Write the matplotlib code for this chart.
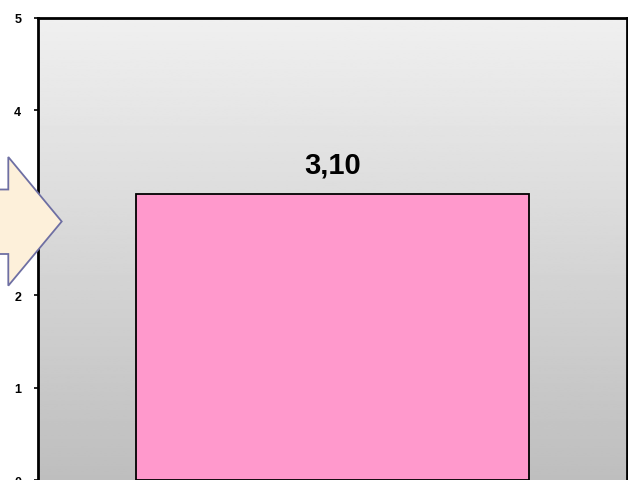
import matplotlib
matplotlib.use('Agg')
import matplotlib.pyplot as plt
import numpy as np
from matplotlib.patches import Polygon

# Data
categories = ['']
values = [3.10]
value_labels = ['3,10']
yticks = [0, 1, 2, 3, 4, 5]

plt.rcParams['font.family'] = ['Liberation Sans', 'DejaVu Sans']

fig = plt.figure(figsize=(6.28, 4.81), dpi=100)
ax = fig.add_axes([38 / 628, -0.001, 589 / 628, 462.5 / 481])

# Background gradient (light at top, grey at bottom)
grad = np.linspace(0.745, 0.94, 256).reshape(-1, 1)
ax.imshow(grad, cmap='gray', vmin=0, vmax=1, aspect='auto',
          extent=(-0.75, 0.75, 0, 5), origin='lower', zorder=0)

x = np.arange(len(categories))
ax.bar(x, values, width=1.0, color='#FF99CC', edgecolor='black',
       linewidth=1.3, zorder=2)
for xi, v, lab in zip(x, values, value_labels):
    ax.text(xi, v + 0.17, lab, ha='center', va='bottom',
            fontsize=21, fontweight='bold', zorder=3)

ax.set_xlim(-0.75, 0.75)
ax.set_ylim(0, 5)
ax.set_xticks([])
ax.set_yticks(yticks)
ax.set_yticklabels([str(t) for t in yticks], fontsize=9, fontweight='bold')
ax.tick_params(axis='y', direction='out', length=3, width=1.2, pad=9)
for side in ['left', 'top', 'right']:
    ax.spines[side].set_linewidth(2)
    ax.spines[side].set_color('black')
ax.spines['bottom'].set_visible(False)

# Decorative arrow on the left (figure pixel coords)
W, H = 628, 481
pts = [(-5, 190.5), (8.3, 190.5), (8.3, 158), (61.7, 222.5),
       (8.3, 286.7), (8.3, 255), (-5, 255)]
arrow = Polygon([(px / W, 1 - py / H) for px, py in pts], closed=True,
                transform=fig.transFigure, facecolor='#FDF0DA',
                edgecolor='#6E6FA3', linewidth=1.3, zorder=5)
fig.patches.append(arrow)

fig.savefig('out.png', dpi=100)
